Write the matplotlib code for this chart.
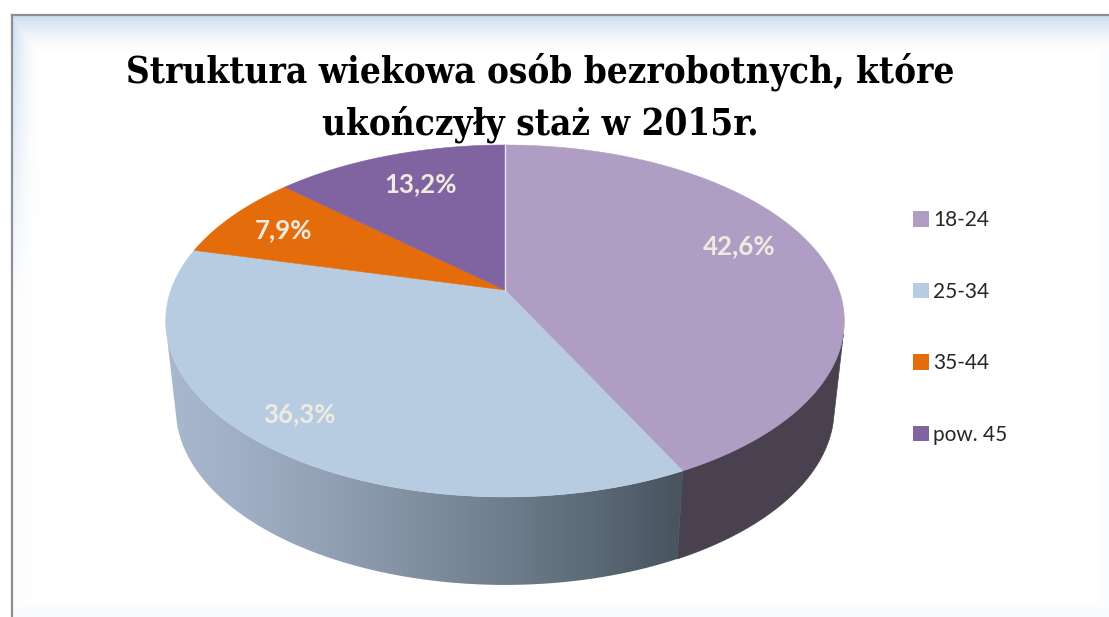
import numpy as np
import matplotlib
matplotlib.use("Agg")
import matplotlib.pyplot as plt
from matplotlib.patches import Patch, Polygon

# --- data -------------------------------------------------------------
title_lines = ["Struktura wiekowa osób bezrobotnych, które", "ukończyły staż w 2015r."]
categories = ["18-24", "25-34", "35-44", "pow. 45"]
values = [42.6, 36.3, 7.9, 13.2]
value_labels = ["42,6%", "36,3%", "7,9%", "13,2%"]
colors = ["#B09DC4", "#B7CBE1", "#E46C0A", "#8064A2"]

# --- layout (pixels) ---------------------------------------------------
W, H = 1109, 617
CX, CY = 505, 290          # centre of the pie as seen in perspective
K, A, C = 0.176, 170.5, 334
DEPTH, SHRINK = 88, 0.97
TANGENT = 0.25             # angle below the horizontal where the wall silhouette leaves the top face
label_xy = [(739, 246), (299, 414), (283, 230), (421, 184)]

fig = plt.figure(figsize=(W / 100, H / 100), dpi=100, facecolor="white")
ax = fig.add_axes([0, 0, 1, 1])
ax.axis("off")


def top(theta):
    u, v = np.cos(theta), np.sin(theta)
    d = 1 + K * v
    return CX + C * u / d, CY - A * v / d


def bottom(theta):
    x, y = top(theta)
    return CX + (x - CX) * SHRINK, y + DEPTH


def wall_outline(theta):
    x0, y0 = top(theta)
    x1, y1 = bottom(theta)
    return np.column_stack([np.r_[x0, x1[::-1]], np.r_[y0, y1[::-1]]])


# --- panel background --------------------------------------------------
xx, yy = np.meshgrid(np.arange(W) + .5, np.arange(H) + .5)
t = np.clip(1 - (yy - 16) / 38, 0, 1) ** 1.6 * (yy >= 16)
l = np.clip(1 - (xx - 13) / 26, 0, 1) ** 1.6 * (yy >= 16) * np.clip(1.1 - yy / 300, .1, 1)
r = np.clip(1 - (1106 - xx) / 10, 0, 1) * .1
b = np.clip(1 - (612 - yy) / 12, 0, 1) * .12
amt = np.maximum.reduce([t * .9, l * .8, r * (yy >= 16), b]) * (xx >= 13)
tint = np.array([0.78, 0.85, 0.93])
img = 1 - amt[..., None] * (1 - tint)
ax.imshow(img, extent=(0, W, H, 0), aspect="auto", zorder=0, interpolation="bilinear")
ax.plot([12, 12], [H, 15], color="#8B9097", lw=1.6, zorder=1, solid_capstyle="projecting")
ax.plot([12, W], [15, 15], color="#8B9097", lw=1.6, zorder=1)

# --- slices ------------------------------------------------------------
fractions = np.array(values) / sum(values)
edges = np.pi / 2 - 2 * np.pi * np.concatenate([[0], np.cumsum(fractions)])

# side wall of the first slice: flat dark tone
th = np.linspace(-TANGENT, edges[1], 300)
ax.add_patch(Polygon(wall_outline(th), closed=True, facecolor="#4A4150", edgecolor="#4A4150",
                     lw=0.5, zorder=2))

# side wall of the second slice: horizontal gradient clipped to its outline
th = np.linspace(edges[1], -np.pi + TANGENT, 300)
wall = Polygon(wall_outline(th), closed=True, transform=ax.transData, facecolor="none", edgecolor="none")
ax.add_patch(wall)
side_left, side_right = np.array([0.66, 0.72, 0.81]), np.array([0.28, 0.33, 0.37])
x_start, x_end = 165, 683
f = np.linspace(0, 1, 512) ** 1.25
grad = (side_left + (side_right - side_left) * f[:, None])[None, :, :]
im = ax.imshow(grad, extent=(x_start, x_end, H, 0), aspect="auto", zorder=2, interpolation="bilinear")
im.set_clip_path(wall)

# top face
for i, colour in enumerate(colors):
    th = np.linspace(edges[i], edges[i + 1], 200)
    x, y = top(th)
    ax.fill(np.r_[CX, x], np.r_[CY, y], color=colour, lw=0.4, zorder=3)
tx, ty = top(edges[0])
ax.plot([CX, tx], [CY, ty], color="#E8E4EE", lw=1.0, zorder=4)

# value labels
for (lx, ly), s in zip(label_xy, value_labels):
    ax.text(lx, ly, s, ha="center", va="center", family="Lato", weight="bold",
            fontsize=18.6, color="#EEECE1", zorder=5)

# title
for s, ty_ in zip(title_lines, (72, 124)):
    ax.text(540, ty_, s, ha="center", va="center", family="DejaVu Serif", stretch="condensed",
            weight="bold", fontsize=26.4, color="black", zorder=5)

# legend
handles = [Patch(facecolor=c, edgecolor="none", label=n) for c, n in zip(colors, categories)]
leg = ax.legend(handles=handles, loc="upper left", bbox_to_anchor=(905 / W, 1 - 202 / H),
                bbox_transform=ax.transAxes, frameon=False, prop={"family": "Lato", "size": 15},
                handlelength=0.75, handleheight=0.75, handletextpad=0.2, labelspacing=2.47,
                labelcolor="#262626", borderpad=0.4, borderaxespad=0)

ax.set_xlim(0, W)
ax.set_ylim(H, 0)
fig.savefig("out.png", dpi=100)
